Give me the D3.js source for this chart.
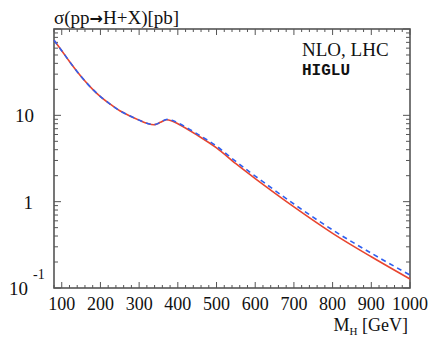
<!DOCTYPE html>
<html>
<head>
<meta charset="utf-8">
<script src="https://cdn.jsdelivr.net/npm/d3@7"></script>
<style>
  body { margin: 0; background: #fff; }
  text { font-family: "Liberation Serif", "DejaVu Serif", serif; fill: #111; }
</style>
</head>
<body>
<div id="chart"></div>
<script>
// ---------- data ----------
var massGeV = [80, 100, 120, 140, 160, 180, 200, 225, 250, 275, 300, 320, 340, 355, 370, 385, 400, 450, 500, 550, 600, 700, 800, 900, 1000];
var sigmaSolid = [74, 56, 42, 32, 25, 20, 16.5, 13.5, 11.3, 9.9, 8.8, 8.1, 7.8, 8.3, 8.9, 8.6, 8.0, 5.9, 4.2, 2.75, 1.85, 0.87, 0.43, 0.23, 0.127];
var sigmaDashed = [74, 56, 42, 32, 25, 20, 16.5, 13.5, 11.3, 9.9, 8.8, 8.1, 7.8, 8.3, 8.95, 8.75, 8.2, 6.1, 4.4, 2.92, 1.98, 0.94, 0.47, 0.253, 0.141];
var xTickValues = [100, 200, 300, 400, 500, 600, 700, 800, 900, 1000];
var yDecades = [0.1, 1, 10, 100];

// ---------- layout ----------
var W = 431, H = 339;
var frame = { left: 54, right: 410, top: 29, bottom: 288 };

var svg = d3.select("#chart").append("svg")
  .attr("width", W).attr("height", H);

var x = d3.scaleLinear().domain([80, 1000]).range([frame.left, frame.right]);
var y = d3.scaleLog().domain([0.1, 100]).range([frame.bottom, frame.top]);

// ---------- ticks ----------
var axisColor = "#555";
var minorX = d3.range(80, 1001, 20).filter(function(v) { return v % 100 !== 0; });
var yMinor = [];
[0.1, 1, 10].forEach(function(d) {
  for (var k = 2; k <= 9; k++) yMinor.push(d * k);
});

var ticks = svg.append("g").attr("stroke", axisColor).attr("stroke-width", 1);
// bottom and top
xTickValues.forEach(function(v) {
  ticks.append("line").attr("x1", x(v)).attr("x2", x(v)).attr("y1", frame.bottom).attr("y2", frame.bottom - 6);
  ticks.append("line").attr("x1", x(v)).attr("x2", x(v)).attr("y1", frame.top).attr("y2", frame.top + 6);
});
minorX.forEach(function(v) {
  ticks.append("line").attr("x1", x(v)).attr("x2", x(v)).attr("y1", frame.bottom).attr("y2", frame.bottom - 3);
  ticks.append("line").attr("x1", x(v)).attr("x2", x(v)).attr("y1", frame.top).attr("y2", frame.top + 3);
});
// left and right
yDecades.forEach(function(v) {
  ticks.append("line").attr("x1", frame.left).attr("x2", frame.left + 7).attr("y1", y(v)).attr("y2", y(v));
  ticks.append("line").attr("x1", frame.right).attr("x2", frame.right - 7).attr("y1", y(v)).attr("y2", y(v));
});
yMinor.forEach(function(v) {
  ticks.append("line").attr("x1", frame.left).attr("x2", frame.left + 4).attr("y1", y(v)).attr("y2", y(v));
  ticks.append("line").attr("x1", frame.right).attr("x2", frame.right - 4).attr("y1", y(v)).attr("y2", y(v));
});

// frame
svg.append("rect")
  .attr("x", frame.left).attr("y", frame.top)
  .attr("width", frame.right - frame.left).attr("height", frame.bottom - frame.top)
  .attr("fill", "none").attr("stroke", axisColor).attr("stroke-width", 1.6);

// ---------- curves ----------
var line = d3.line()
  .x(function(d) { return x(d[0]); })
  .y(function(d) { return y(d[1]); })
  .curve(d3.curveCatmullRom.alpha(0.5));

svg.append("path")
  .datum(d3.zip(massGeV, sigmaSolid))
  .attr("d", line)
  .attr("fill", "none")
  .attr("stroke", "#e8452f")
  .attr("stroke-width", 1.6);

svg.append("path")
  .datum(d3.zip(massGeV, sigmaDashed))
  .attr("d", line)
  .attr("fill", "none")
  .attr("stroke", "#2f5ff0")
  .attr("stroke-width", 1.6)
  .attr("stroke-dasharray", "5,4");

// ---------- tick labels ----------
svg.selectAll(".xlab").data(xTickValues).enter().append("text")
  .attr("x", function(d) { return x(d); })
  .attr("y", 310)
  .attr("text-anchor", "middle")
  .style("font-size", "18px")
  .text(function(d) { return d; });

svg.append("text").attr("x", 34).attr("y", y(10) + 7)
  .attr("text-anchor", "end").style("font-size", "19px").text("10");
svg.append("text").attr("x", 33).attr("y", y(1) + 7)
  .attr("text-anchor", "end").style("font-size", "19px").text("1");
svg.append("text").attr("x", 9).attr("y", 295)
  .style("font-size", "19px").text("10");
svg.append("text").attr("x", 33).attr("y", 279)
  .style("font-size", "14px").text("-1");

// ---------- titles ----------
var yt = svg.append("text").attr("x", 54).attr("y", 24)
  .style("font-size", "19px");
yt.append("tspan").text("σ(pp");
yt.append("tspan").style("font-family", "'DejaVu Sans', sans-serif")
  .style("font-size", "16px").style("font-weight", "bold").text("→");
yt.append("tspan").text("H+X)[pb]");

var xt = svg.append("text").attr("x", 408).attr("y", 331)
  .attr("text-anchor", "end").style("font-size", "18px");
xt.append("tspan").text("M");
xt.append("tspan").attr("dy", 4).style("font-size", "11px").text("H");
xt.append("tspan").attr("dy", -4).text(" [GeV]");

svg.append("text").attr("x", 302).attr("y", 56)
  .style("font-size", "19px").text("NLO, LHC");
svg.append("text").attr("x", 302).attr("y", 75)
  .style("font-family", "'Liberation Mono', 'DejaVu Sans Mono', monospace")
  .style("font-weight", "bold")
  .style("font-size", "16px").text("HIGLU");
</script>
</body>
</html>
